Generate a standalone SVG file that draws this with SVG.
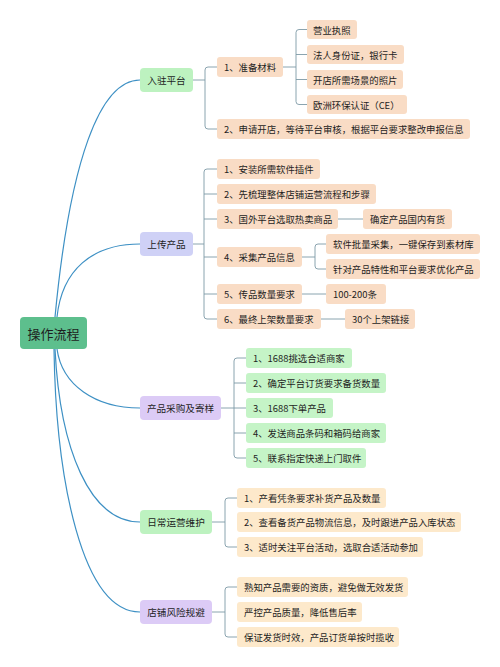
<svg xmlns="http://www.w3.org/2000/svg" width="500" height="667" viewBox="0 0 500 667">
<style>
text{font-family:"Microsoft YaHei","Noto Sans CJK SC","Noto Sans",sans-serif;fill:#1e1e1e;dominant-baseline:central}
.t{font-size:9.4px}
.r{font-size:13px;text-anchor:middle}
.m{font-size:9.6px;text-anchor:middle}
.main{fill:none;stroke:#3d90c4;stroke-width:1.2}
.br{fill:none;stroke:#7e9aa6;stroke-width:0.9}
.peach{fill:#f9dcc5}
.cream{fill:#fde9cb}
.lg{fill:#c5f4c7}
.g1{fill:#bdf2c0}
.lav{fill:#cfd1f6}
.pur{fill:#dccbf6}
</style>
<rect width="500" height="667" fill="#ffffff"/>
<g id="connectors">
<path class="main" d="M55,317 C70,160 100,80 140,80"/>
<path class="main" d="M57,317 C62,270 92,244 140,244"/>
<path class="main" d="M57,349 C62,385 95,408 140,408"/>
<path class="main" d="M55,349 C60,450 90,522 140,522"/>
<path class="main" d="M54,349 C56,480 82,612 140,612"/>
<path class="br" d="M193,80 H205 M217,67 H208 Q205,67 205,70 V126 Q205,129 208,129 H217"/>
<path class="br" d="M283,67 H296 M307,29.5 H299 Q296,29.5 296,32.5 V101.5 Q296,104.5 299,104.5 H307 M296,54.5 H307 M296,79.5 H307"/>
<path class="br" d="M193,244 H204 M217,169 H207 Q204,169 204,172 V316 Q204,319 207,319 H217 M204,194 H217 M204,219 H217 M204,257 H217 M204,294 H217"/>
<path class="br" d="M338,219 H363"/>
<path class="br" d="M302,257 H315 M326,244 H318 Q315,244 315,247 V266 Q315,269 318,269 H326"/>
<path class="br" d="M302,294 H326"/>
<path class="br" d="M321,319 H345"/>
<path class="br" d="M221,408 H234 M246,358 H237 Q234,358 234,361 V455 Q234,458 237,458 H246 M234,383 H246 M234,408 H246 M234,433 H246"/>
<path class="br" d="M212,522 H225 M237,498 H228 Q225,498 225,501 V544 Q225,547 228,547 H237"/>
<path class="br" d="M212,612 H225 M237,587 H228 Q225,587 225,590 V634 Q225,637 228,637 H237"/>
</g>
<g id="root"><rect x="20" y="317" width="67" height="32" rx="4" fill="#5dbf8d"/><text class="r" x="53.5" y="333">操作流程</text></g>
<g id="n-ruzhu"><rect class="g1" x="140" y="68" width="53" height="24" rx="4"/><text class="m" x="166.5" y="80">入驻平台</text></g>
<g id="n-ruzhu-1"><rect class="peach" x="217" y="57" width="66" height="20" rx="3"/><text class="t" x="224" y="67">1、准备材料</text></g>
<g id="n-ruzhu-1a"><rect class="peach" x="307" y="20" width="50" height="19" rx="3"/><text class="t" x="313" y="29.5">营业执照</text></g>
<g id="n-ruzhu-1b"><rect class="peach" x="307" y="45" width="97" height="19" rx="3"/><text class="t" x="313" y="54.5">法人身份证，银行卡</text></g>
<g id="n-ruzhu-1c"><rect class="peach" x="307" y="70" width="96" height="19" rx="3"/><text class="t" x="313" y="79.5">开店所需场景的照片</text></g>
<g id="n-ruzhu-1d"><rect class="peach" x="307" y="95" width="100" height="19" rx="3"/><text class="t" x="313" y="104.5">欧洲环保认证（CE）</text></g>
<g id="n-ruzhu-2"><rect class="peach" x="217" y="119" width="253" height="20" rx="3"/><text class="t" x="224" y="129">2、申请开店，等待平台审核，根据平台要求整改申报信息</text></g>
<g id="n-upload"><rect class="lav" x="140" y="232" width="53" height="24" rx="4"/><text class="m" x="166.5" y="244">上传产品</text></g>
<g id="n-upload-1"><rect class="peach" x="217" y="159" width="103" height="20" rx="3"/><text class="t" x="224" y="169">1、安装所需软件插件</text></g>
<g id="n-upload-2"><rect class="peach" x="217" y="184" width="159" height="20" rx="3"/><text class="t" x="224" y="194">2、先梳理整体店铺运营流程和步骤</text></g>
<g id="n-upload-3"><rect class="peach" x="217" y="209" width="121" height="20" rx="3"/><text class="t" x="224" y="219">3、国外平台选取热卖商品</text></g>
<g id="n-upload-3a"><rect class="peach" x="363" y="209" width="89" height="20" rx="3"/><text class="t" x="370" y="219">确定产品国内有货</text></g>
<g id="n-upload-4"><rect class="peach" x="217" y="247" width="85" height="20" rx="3"/><text class="t" x="224" y="257">4、采集产品信息</text></g>
<g id="n-upload-4a"><rect class="peach" x="326" y="234" width="154" height="20" rx="3"/><text class="t" x="333" y="244">软件批量采集，一键保存到素材库</text></g>
<g id="n-upload-4b"><rect class="peach" x="326" y="259" width="154" height="20" rx="3"/><text class="t" x="333" y="269">针对产品特性和平台要求优化产品</text></g>
<g id="n-upload-5"><rect class="peach" x="217" y="284" width="85" height="20" rx="3"/><text class="t" x="224" y="294">5、传品数量要求</text></g>
<g id="n-upload-5a"><rect class="peach" x="326" y="284" width="60" height="20" rx="3"/><text class="t" x="333" y="294">100-200条</text></g>
<g id="n-upload-6"><rect class="peach" x="217" y="309" width="104" height="20" rx="3"/><text class="t" x="224" y="319">6、最终上架数量要求</text></g>
<g id="n-upload-6a"><rect class="peach" x="345" y="309" width="70" height="20" rx="3"/><text class="t" x="352" y="319">30个上架链接</text></g>
<g id="n-purchase"><rect class="pur" x="140" y="396" width="81" height="24" rx="4"/><text class="m" x="180.5" y="408">产品采购及寄样</text></g>
<g id="n-purchase-1"><rect class="lg" x="246" y="348" width="106" height="20" rx="3"/><text class="t" x="253" y="358">1、1688挑选合适商家</text></g>
<g id="n-purchase-2"><rect class="lg" x="246" y="373" width="140" height="20" rx="3"/><text class="t" x="253" y="383">2、确定平台订货要求备货数量</text></g>
<g id="n-purchase-3"><rect class="lg" x="246" y="398" width="87" height="20" rx="3"/><text class="t" x="253" y="408">3、1688下单产品</text></g>
<g id="n-purchase-4"><rect class="lg" x="246" y="423" width="140" height="20" rx="3"/><text class="t" x="253" y="433">4、发送商品条码和箱码给商家</text></g>
<g id="n-purchase-5"><rect class="lg" x="246" y="448" width="120" height="20" rx="3"/><text class="t" x="253" y="458">5、联系指定快递上门取件</text></g>
<g id="n-daily"><rect class="g1" x="140" y="510" width="72" height="24" rx="4"/><text class="m" x="176" y="522">日常运营维护</text></g>
<g id="n-daily-1"><rect class="cream" x="237" y="488" width="149" height="20" rx="3"/><text class="t" x="244" y="498">1、产看凭条要求补货产品及数量</text></g>
<g id="n-daily-2"><rect class="cream" x="237" y="512" width="224" height="20" rx="3"/><text class="t" x="244" y="522">2、查看备货产品物流信息，及时跟进产品入库状态</text></g>
<g id="n-daily-3"><rect class="cream" x="237" y="537" width="186" height="20" rx="3"/><text class="t" x="244" y="547">3、适时关注平台活动，选取合适活动参加</text></g>
<g id="n-risk"><rect class="pur" x="140" y="600" width="72" height="24" rx="4"/><text class="m" x="176" y="612">店铺风险规避</text></g>
<g id="n-risk-1"><rect class="cream" x="237" y="577" width="171" height="20" rx="3"/><text class="t" x="244" y="587">熟知产品需要的资质，避免做无效发货</text></g>
<g id="n-risk-2"><rect class="cream" x="237" y="602" width="125" height="20" rx="3"/><text class="t" x="244" y="612">严控产品质量，降低售后率</text></g>
<g id="n-risk-3"><rect class="cream" x="237" y="627" width="162" height="20" rx="3"/><text class="t" x="244" y="637">保证发货时效，产品订货单按时揽收</text></g>
</svg>
